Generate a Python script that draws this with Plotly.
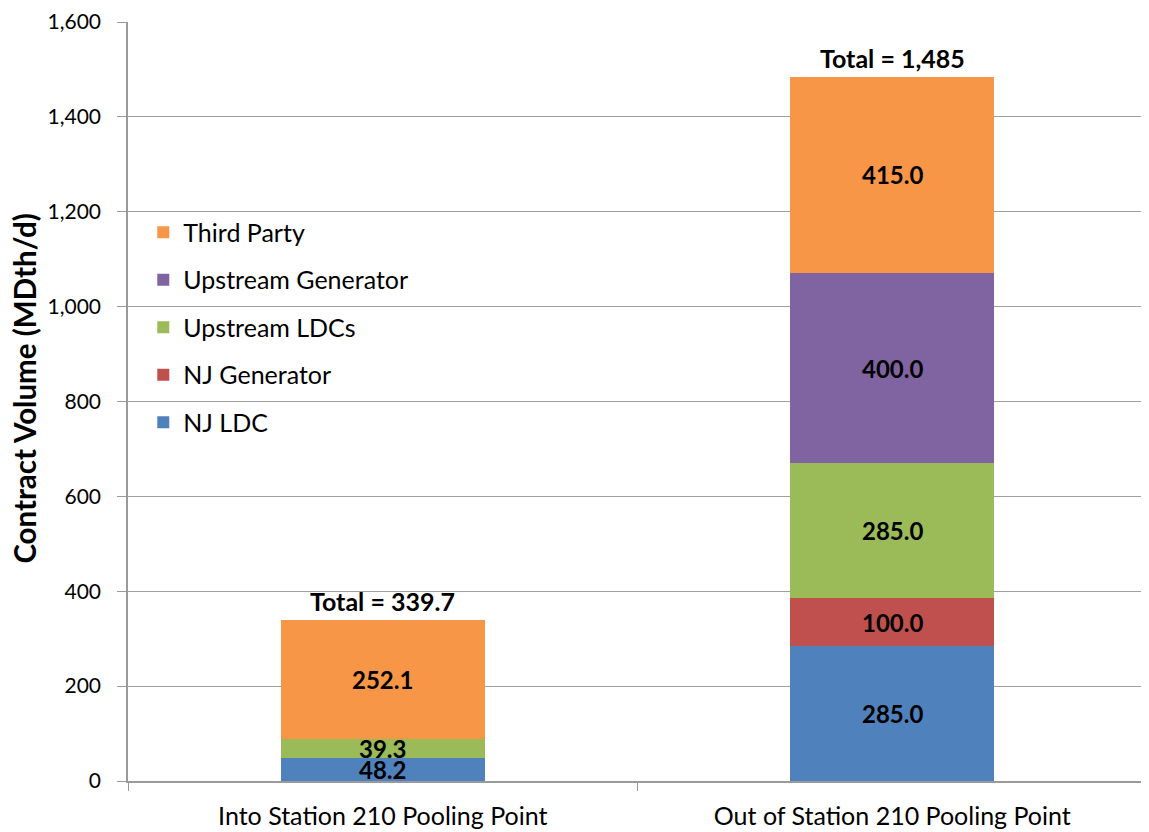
import plotly.graph_objects as go

# categories and series (MDth/d)
categories = ["Into Station 210 Pooling Point", "Out of Station 210 Pooling Point"]
series_names = ["NJ LDC", "NJ Generator", "Upstream LDCs", "Upstream Generator", "Third Party"]
nj_ldc = [48.2, 285.0]
nj_generator = [0, 100.0]
upstream_ldcs = [39.3, 285.0]
upstream_generator = [0, 400.0]
third_party = [252.1, 415.0]
totals = ["339.7", "1,485"]
y_title = "Contract Volume (MDth/d)"

colors = ["#4F81BD", "#C0504D", "#9BBB59", "#8064A2", "#F79646"]
FONT = "Lato, Carlito, Calibri, sans-serif"

series_values = [nj_ldc, nj_generator, upstream_ldcs, upstream_generator, third_party]

fig = go.Figure()
for i, (name, vals) in enumerate(zip(series_names, series_values)):
    fig.add_trace(go.Bar(
        x=categories,
        y=vals,
        name=name,
        marker=dict(color=colors[i], line=dict(width=0)),
        legendgroup=name,
        legendrank=100 - i,  # top of stack listed first
        width=0.4,
    ))

# segment labels, centred in each stacked block
annotations = []
base = [0.0] * len(categories)
for vals in series_values:
    for j, v in enumerate(vals):
        if v:
            annotations.append(dict(
                x=categories[j], y=base[j] + v / 2, text=f"<b>{v:.1f}</b>",
                showarrow=False, font=dict(family=FONT, size=24, color="black"),
                yanchor="middle",
            ))
        base[j] += v

# totals above each bar
for j, t in enumerate(totals):
    annotations.append(dict(
        x=categories[j], y=base[j], text=f"<b>Total = {t}</b>",
        showarrow=False, font=dict(family=FONT, size=25, color="black"),
        yanchor="bottom", yshift=2,
    ))

# y axis title, sits a little above the middle like the original
annotations.append(dict(
    xref="paper", yref="paper", x=0, y=0.517, xshift=-103,
    text=f"<b>{y_title}</b>", textangle=-90, showarrow=False,
    xanchor="center", yanchor="middle",
    font=dict(family=FONT, size=29.5, color="black"),
))

# page body adds an 8px offset, so the figure is sized and padded for that
fig.update_layout(
    barmode="stack",
    width=1141,
    height=828,
    margin=dict(l=120, r=2, t=14, b=55),
    paper_bgcolor="white",
    plot_bgcolor="white",
    font=dict(family=FONT, size=20, color="black"),
    annotations=annotations,
    legend=dict(
        x=0.015, y=0.753, xanchor="left", yanchor="top",
        traceorder="grouped", tracegroupgap=12,
        bgcolor="rgba(0,0,0,0)",
        font=dict(family=FONT, size=25, color="black"),
    ),
    xaxis=dict(
        showline=True, linecolor="#9A9A9A", linewidth=1.5,
        ticks="outside", tickson="boundaries", ticklen=8, tickcolor="#9A9A9A",
        ticklabelstandoff=12, automargin=False,
        tickfont=dict(family=FONT, size=25, color="black"),
    ),
    yaxis=dict(
        range=[0, 1600], dtick=200, tickformat=",d",
        showgrid=True, gridcolor="#A0A0A0", gridwidth=1,
        showline=True, linecolor="#9A9A9A", linewidth=1.5,
        ticks="outside", ticklen=9, tickcolor="#9A9A9A",
        ticklabelstandoff=12, ticklabeloverflow="allow", automargin=False,
        tickfont=dict(family=FONT, size=21, color="black"),
        zeroline=False,
    ),
)

fig.write_html("out.html")
